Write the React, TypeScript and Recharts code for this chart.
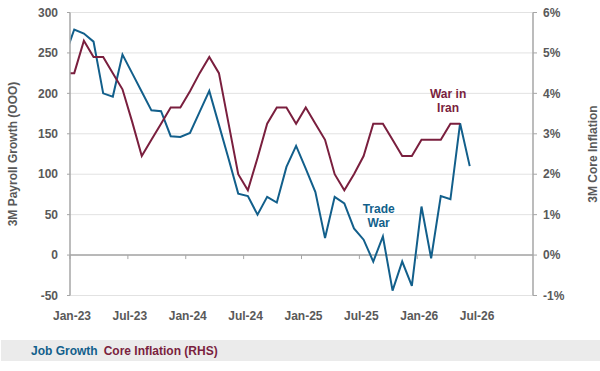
import {
  LineChart,
  Line,
  XAxis,
  YAxis,
  CartesianGrid,
  ReferenceLine,
  ReferenceDot,
  Legend,
} from 'recharts';

// monthly readings, Dec-22 is only there so the line enters the frame at the axis
const months = [
  'Dec-22', 'Jan-23', 'Feb-23', 'Mar-23', 'Apr-23', 'May-23', 'Jun-23', 'Jul-23', 'Aug-23', 'Sep-23', 'Oct-23', 'Nov-23', 'Dec-23',
  'Jan-24', 'Feb-24', 'Mar-24', 'Apr-24', 'May-24', 'Jun-24', 'Jul-24', 'Aug-24', 'Sep-24', 'Oct-24', 'Nov-24', 'Dec-24',
  'Jan-25', 'Feb-25', 'Mar-25', 'Apr-25', 'May-25', 'Jun-25', 'Jul-25', 'Aug-25', 'Sep-25', 'Oct-25', 'Nov-25', 'Dec-25',
  'Jan-26', 'Feb-26', 'Mar-26', 'Apr-26', 'May-26', 'Jun-26',
];

const jobGrowth = [
  245, 279, 274, 264, 200, 196, 248, 225, 202, 179, 178, 147, 146,
  151, 177, 203, 161, 119, 76, 73, 50, 72, 65, 109, 135,
  107, 78, 21, 72, 64, 33, 19, -8, 23, -44, -8, -38,
  60, -4, 73, 69, 163, 110,
];

const coreInflation = [
  4.5, 4.5, 5.3, 4.9, 4.9, 4.5, 4.1, 3.3, 2.45, 2.85, 3.25, 3.65, 3.65,
  4.05, 4.5, 4.9, 4.5, 3.25, 2.0, 1.6, 2.4, 3.25, 3.65, 3.65, 3.25,
  3.65, 3.25, 2.85, 2.0, 1.6, 2.0, 2.45, 3.25, 3.25, 2.85, 2.45, 2.45,
  2.85, 2.85, 2.85, 3.25, 3.25, null,
];

// months counted from the start of Jan-23
const xTicks = [0, 6, 12, 18, 24, 30, 36, 42];
const xTickLabels = ['Jan-23', 'Jul-23', 'Jan-24', 'Jul-24', 'Jan-25', 'Jul-25', 'Jan-26', 'Jul-26'];
const leftTicks = [-50, 0, 50, 100, 150, 200, 250, 300];
const rightTicks = [-1, 0, 1, 2, 3, 4, 5, 6];
const legendOrder = ['Job Growth', 'Core Inflation (RHS)'];

const MID_MONTH = 0.44;
const BLUE = '#125f8b';
const RED = '#7a1f3e';
const GREY = '#595959';
const FONT = '"Liberation Sans", Arial, sans-serif';

const CHART_H = 371;
const TOP = 12.5;
const PLOT_BOTTOM = 295.5;
const LEFT_MIN = -50;
const LEFT_MAX = 300;
const ZERO_OFFSET = ((PLOT_BOTTOM - TOP) * (0 - LEFT_MIN)) / (LEFT_MAX - LEFT_MIN);

const data = months.map((m, i) => ({
  month: m,
  x: i - 1 + MID_MONTH,
  job: jobGrowth[i],
  core: coreInflation[i],
}));

function XTick(props: any) {
  const { x, y, payload } = props;
  const idx = xTicks.indexOf(payload.value);
  return (
    <g>
      <line x1={x} x2={x} y1={y - ZERO_OFFSET} y2={y - ZERO_OFFSET + 4} stroke="#a6a6a6" strokeWidth={1} />
      <text x={x + 2} y={y + 24.5} textAnchor="middle" fill={GREY} fontSize={12} fontWeight={700} fontFamily={FONT}>
        {xTickLabels[idx]}
      </text>
    </g>
  );
}

function AxisTitle(props: any) {
  const { viewBox, value, side } = props;
  const cx = side === 'left' ? viewBox.x + 13 : viewBox.x + viewBox.width - 7;
  const cy = viewBox.y + viewBox.height / 2;
  return (
    <text
      x={cx}
      y={cy}
      transform={`rotate(-90 ${cx} ${cy})`}
      textAnchor="middle"
      dominantBaseline="central"
      fill={GREY}
      fontSize={12}
      fontWeight={700}
      fontFamily={FONT}
    >
      {value}
    </text>
  );
}

function Note(props: any) {
  const { viewBox, lines, color } = props;
  const cx = viewBox.x + (viewBox.width || 0) / 2;
  const cy = viewBox.y + (viewBox.height || 0) / 2;
  return (
    <text textAnchor="middle" fill={color} fontSize={12} fontWeight={700} fontFamily={FONT}>
      {lines.map((l: string, i: number) => (
        <tspan key={l} x={cx} y={cy + (i - (lines.length - 1) / 2) * 14.5 + 4.3}>
          {l}
        </tspan>
      ))}
    </text>
  );
}

function LegendBar(props: any) {
  const items = [...(props.payload || [])].sort(
    (a: any, b: any) => legendOrder.indexOf(a.value) - legendOrder.indexOf(b.value),
  );
  return (
    <div
      style={{
        height: 21,
        background: '#ebebeb',
        display: 'flex',
        alignItems: 'center',
        paddingLeft: 30,
        fontFamily: FONT,
        fontSize: 12,
        fontWeight: 700,
        marginLeft: 1,
      }}
    >
      {items.map((e: any) => (
        <span key={e.value} style={{ color: e.color, marginRight: 6 }}>
          {e.value}
        </span>
      ))}
    </div>
  );
}

export default function App() {
  return (
    <div style={{ position: 'absolute', left: 0, top: 0 }}>
      <LineChart width={600} height={CHART_H} data={data} margin={{ top: TOP, right: 0, left: 0, bottom: 10 }}>
        <CartesianGrid yAxisId="left" vertical={false} stroke="#e2e2e2" />
        <XAxis
          dataKey="x"
          type="number"
          domain={[0, 48]}
          ticks={xTicks}
          interval={0}
          allowDataOverflow
          axisLine={false}
          tickLine={false}
          tickSize={0}
          tickMargin={0}
          height={44.5}
          tick={<XTick />}
        />
        <YAxis
          yAxisId="left"
          domain={[LEFT_MIN, LEFT_MAX]}
          ticks={leftTicks}
          width={70}
          tickSize={3}
          tickMargin={9}
          axisLine={{ stroke: '#a6a6a6', strokeWidth: 1.5 }}
          tickLine={{ stroke: '#a6a6a6' }}
          tick={{ fill: GREY, fontSize: 12, fontWeight: 700, fontFamily: FONT }}
          label={(p: any) => <AxisTitle {...p} value="3M Payroll Growth (OOO)" side="left" />}
        />
        <YAxis
          yAxisId="right"
          orientation="right"
          domain={[-1, 6]}
          ticks={rightTicks}
          width={67}
          tickSize={4}
          tickMargin={6}
          tickFormatter={(v) => `${v}%`}
          axisLine={{ stroke: '#a6a6a6', strokeWidth: 1.5 }}
          tickLine={{ stroke: '#a6a6a6' }}
          tick={{ fill: GREY, fontSize: 12, fontWeight: 700, fontFamily: FONT, textAnchor: 'start' }}
          label={(p: any) => <AxisTitle {...p} value="3M Core Inflation" side="right" />}
        />
        <ReferenceLine yAxisId="left" y={0} stroke="#a6a6a6" strokeWidth={1.5} />
        <Legend verticalAlign="bottom" content={<LegendBar />} />
        <Line
          yAxisId="left"
          dataKey="job"
          name="Job Growth"
          type="linear"
          stroke={BLUE}
          strokeWidth={2}
          dot={false}
          isAnimationActive={false}
        />
        <Line
          yAxisId="right"
          dataKey="core"
          name="Core Inflation (RHS)"
          type="linear"
          stroke={RED}
          strokeWidth={2}
          dot={false}
          isAnimationActive={false}
        />
        <ReferenceDot
          yAxisId="left"
          x={32}
          y={49}
          r={0}
          fill="none"
          stroke="none"
          label={(p: any) => <Note {...p} lines={['Trade', 'War']} color={BLUE} />}
        />
        <ReferenceDot
          yAxisId="left"
          x={39.2}
          y={191}
          r={0}
          fill="none"
          stroke="none"
          label={(p: any) => <Note {...p} lines={['War in', 'Iran']} color={RED} />}
        />
      </LineChart>
    </div>
  );
}
